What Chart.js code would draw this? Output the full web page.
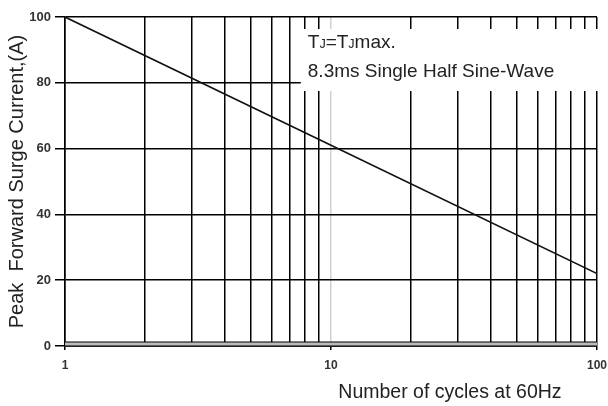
<!DOCTYPE html>
<html>
<head>
<meta charset="utf-8">
<script src="https://cdn.jsdelivr.net/npm/chart.js@4.4.1/dist/chart.umd.min.js"></script>
<style>
    html, body { margin: 0; padding: 0; background: #fff; }
    #wrap { width: 608px; height: 406px; position: relative; }
</style>
</head>
<body>
<div id="wrap"><canvas id="surgeChart" width="608" height="406"></canvas></div>
<script>
// data (log x from 1 to 100 cycles)
const cycles = [1, 10, 100];
const surgeCurrent = [100, 61, 22];
const labeledCycles = [1, 10, 100];
const noteLines = ['8.3ms Single Half Sine-Wave'];
const xTitle = 'Number of cycles at 60Hz';

const FONT = '"Liberation Sans", Arial, sans-serif';

// white note box over the upper right of the grid
const notePlugin = {
    id: 'note',
    afterDatasetsDraw(chart) {
        const { ctx, chartArea } = chart;
        const x = chart.scales.x.getPixelForValue(7.7);
        ctx.save();
        ctx.fillStyle = '#fff';
        ctx.fillRect(x, chartArea.top + 12, chartArea.right - x + 2, 62);
        ctx.fillStyle = '#222';
        ctx.textBaseline = 'middle';
        const y1 = chartArea.top + 26;
        let tx = x + 7;
        const parts = [['T', 19], ['J', 12.5], ['=T', 19], ['J', 12.5], ['max.', 19]];
        parts.forEach(([s, size]) => {
            ctx.font = size + 'px ' + FONT;
            ctx.fillText(s, tx, size < 19 ? y1 + 2 : y1);
            tx += ctx.measureText(s).width;
        });
        ctx.font = '19px ' + FONT;
        ctx.fillText(noteLines[0], x + 7, chartArea.top + 55);
        ctx.restore();
    }
};

// double rule along the zero line + x axis title
const baseRulePlugin = {
    id: 'baseRule',
    afterDraw(chart) {
        const { ctx, chartArea } = chart;
        const y0 = chart.scales.y.getPixelForValue(0);
        ctx.save();
        ctx.fillStyle = '#bbb';
        ctx.fillRect(chartArea.left, y0 - 4, chartArea.right - chartArea.left, 4);
        ctx.strokeStyle = '#000';
        ctx.lineWidth = 1.2;
        ctx.beginPath();
        ctx.moveTo(chartArea.left, y0 - 4);
        ctx.lineTo(chartArea.right, y0 - 4);
        ctx.moveTo(chartArea.left, y0);
        ctx.lineTo(chartArea.right, y0);
        ctx.stroke();

        ctx.fillStyle = '#222';
        ctx.font = '19.5px ' + FONT;
        ctx.textAlign = 'center';
        ctx.textBaseline = 'middle';
        ctx.fillText(xTitle, chart.scales.x.getPixelForValue(28), chartArea.bottom + 47);
        ctx.restore();
    }
};

new Chart(document.getElementById('surgeChart'), {
    type: 'line',
    data: {
        datasets: [{
            data: cycles.map((c, i) => ({ x: c, y: surgeCurrent[i] })),
            borderColor: '#111',
            borderWidth: 1.6,
            pointRadius: 0,
            tension: 0
        }]
    },
    options: {
        responsive: false,
        animation: false,
        layout: { padding: { top: 17, right: 11, left: 0, bottom: 0 } },
        plugins: {
            legend: { display: false },
            tooltip: { enabled: false }
        },
        scales: {
            x: {
                type: 'logarithmic',
                min: 1,
                max: 100,
                afterFit(scale) {
                    scale.height = 60;
                    scale.paddingLeft = 0;
                    scale.paddingRight = 0;
                },
                afterBuildTicks(scale) {
                    const t = [];
                    for (let d = 1; d <= 100; d *= 10) {
                        for (let k = 1; k <= 9; k++) {
                            if (d * k <= 100) t.push({ value: d * k });
                        }
                    }
                    scale.ticks = t;
                },
                grid: {
                    color: ctx => ctx.tick && ctx.tick.value === 10 ? '#d0d0d0' : '#000',
                    lineWidth: 1.5,
                    tickColor: ctx => ctx.tick && labeledCycles.includes(ctx.tick.value) ? '#000' : 'rgba(0,0,0,0)',
                    tickLength: 4
                },
                border: { color: '#000', width: 1.5 },
                ticks: {
                    autoSkip: false,
                    maxRotation: 0,
                    padding: 8,
                    color: '#333',
                    font: { family: FONT, size: 12, weight: 'bold' },
                    callback: v => labeledCycles.includes(v) ? String(v) : ''
                },
                title: { display: false }
            },
            y: {
                min: 0,
                max: 100,
                afterFit(scale) { scale.width = 65; },
                grid: {
                    color: '#000',
                    lineWidth: 1.5,
                    tickLength: 10
                },
                border: { color: '#000', width: 1.5 },
                ticks: {
                    stepSize: 20,
                    padding: 4,
                    color: '#333',
                    font: { family: FONT, size: 13, weight: 'bold' }
                },
                title: {
                    display: true,
                    text: 'Peak  Forward Surge Current,(A)',
                    color: '#222',
                    font: { family: FONT, size: 20 },
                    padding: { top: 5, bottom: 0 }
                }
            }
        }
    },
    plugins: [notePlugin, baseRulePlugin]
});
</script>
</body>
</html>
